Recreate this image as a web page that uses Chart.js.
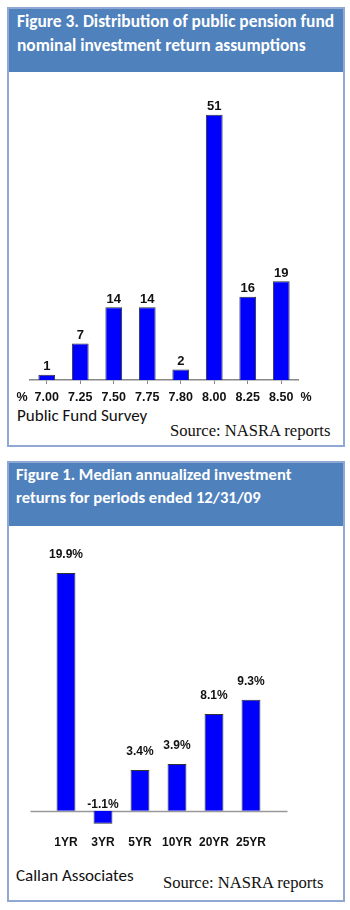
<!DOCTYPE html>
<html>
<head>
<meta charset="utf-8">
<script src="https://cdn.jsdelivr.net/npm/chart.js@4.4.0/dist/chart.umd.min.js"></script>
<style>
  body { margin: 0; background: #fff; width: 350px; height: 910px; position: relative; overflow: hidden; }
  .panel { position: absolute; left: 7px; width: 334px; border: 2px solid #8fa9d4; background: #fff; }
  .head { background: #4f81bd; color: #fff; font-family: 'Carlito', Lato, sans-serif; font-weight: bold;
          font-size: 17.4px; line-height: 24px; box-sizing: border-box; white-space: nowrap; }
  .note { position: absolute; font-family: 'Carlito', Lato, sans-serif; font-size: 17px; color: #111; white-space: nowrap; }
  .src { position: absolute; font-family: 'Liberation Serif', 'Times New Roman', serif; font-size: 16.6px; color: #111; white-space: nowrap; }
  canvas { position: absolute; left: 0; }
</style>
</head>
<body>
<div class="panel" style="top:7px;height:436px">
  <div class="head" style="height:63px;padding:0 0 0 8px">Figure 3. Distribution of public pension fund<br>nominal investment return assumptions</div>
</div>
<div class="panel" style="top:461px;height:437px">
  <div class="head" style="height:63px;padding:0 0 0 7px;font-size:16.6px;line-height:23px">Figure 1. Median annualized investment<br>returns for periods ended 12/31/09</div>
</div>
<div class="note" style="left:17px;top:405px">Public Fund Survey</div>
<div class="src" style="left:170px;top:421px">Source: NASRA reports</div>
<div class="note" style="left:16px;top:865px">Callan Associates</div>
<div class="src" style="left:163px;top:873px">Source: NASRA reports</div>

<canvas id="assumptions" width="350" height="338" style="top:73px"></canvas>
<canvas id="returns" width="350" height="330" style="top:527px"></canvas>

<script>
// Figure 3 - number of funds per assumed return
const surveyRates = ['7.00', '7.25', '7.50', '7.75', '7.80', '8.00', '8.25', '8.50'];
const surveyCounts = [1, 7, 14, 14, 2, 51, 16, 19];

// Figure 1 - median annualized returns
const periods = ['1YR', '3YR', '5YR', '10YR', '20YR', '25YR'];
const medianReturns = [19.9, -1.1, 3.4, 3.9, 8.1, 9.3];

const SANS = '"Liberation Sans", Arial, sans-serif';

// labels on top of bars
function valueLabels(fmt, font, gapUp, gapNeg) {
    return {
        id: 'valueLabels',
        afterDatasetsDraw(chart) {
            const ctx = chart.ctx;
            const meta = chart.getDatasetMeta(0);
            const data = chart.data.datasets[0].data;
            const y0 = chart.scales.y.getPixelForValue(0);
            ctx.save();
            ctx.font = font;
            ctx.fillStyle = '#111';
            ctx.textAlign = 'center';
            ctx.textBaseline = 'middle';
            meta.data.forEach((bar, i) => {
                const v = data[i];
                const y = v >= 0 ? bar.y - gapUp : y0 - gapNeg;
                ctx.fillText(fmt(v), bar.x, y);
            });
            ctx.restore();
        }
    };
}

const percentEnds = {
    id: 'percentEnds',
    afterDraw(chart) {
        const ctx = chart.ctx;
        const a = chart.chartArea;
        ctx.save();
        ctx.font = 'bold 12.5px ' + SANS;
        ctx.fillStyle = '#111';
        ctx.textAlign = 'center';
        ctx.textBaseline = 'middle';
        ctx.fillText('%', a.left - 8, a.bottom + 18);
        ctx.fillText('%', a.right + 8, a.bottom + 18);
        ctx.restore();
    }
};

const zeroLine = {
    id: 'zeroLine',
    beforeDatasetsDraw(chart) {
        const ctx = chart.ctx;
        const a = chart.chartArea;
        const y = Math.round(chart.scales.y.getPixelForValue(0)) + 0.5;
        ctx.save();
        ctx.strokeStyle = '#999';
        ctx.lineWidth = 1.5;
        ctx.beginPath();
        ctx.moveTo(a.left - 17, y);
        ctx.lineTo(a.right + 18, y);
        ctx.stroke();
        ctx.restore();
    }
};

new Chart(document.getElementById('assumptions'), {
    type: 'bar',
    data: {
        labels: surveyRates,
        datasets: [{
            data: surveyCounts,
            backgroundColor: '#0000ff',
            borderColor: '#333',
            borderWidth: 1,
            categoryPercentage: 1,
            barPercentage: 0.5
        }]
    },
    options: {
        responsive: false,
        animation: false,
        layout: { padding: { left: 30, right: 52, top: 21, bottom: 0 } },
        plugins: { legend: { display: false }, tooltip: { enabled: false } },
        scales: {
            y: { display: false, min: 0, max: 55 },
            x: {
                border: { color: '#888', width: 1.5 },
                grid: { drawOnChartArea: false, offset: false, color: '#888', tickLength: 4 },
                ticks: { color: '#111', padding: 6, font: { family: SANS, size: 12.5, weight: 'bold' } }
            }
        }
    },
    plugins: [valueLabels(v => String(v), 'bold 13px ' + SANS, 8, 0), percentEnds]
});

new Chart(document.getElementById('returns'), {
    type: 'bar',
    data: {
        labels: periods,
        datasets: [{
            data: medianReturns,
            backgroundColor: '#0000ff',
            borderColor: '#333',
            borderWidth: 1,
            categoryPercentage: 1,
            barPercentage: 0.51
        }]
    },
    options: {
        responsive: false,
        animation: false,
        layout: { padding: { left: 47.5, right: 80.5, top: 21, bottom: 0 } },
        plugins: { legend: { display: false }, tooltip: { enabled: false } },
        scales: {
            y: { display: false, min: -1.5, max: 22 },
            x: {
                border: { display: false },
                grid: { display: false, drawTicks: false },
                ticks: { color: '#111', padding: 7, font: { family: SANS, size: 12, weight: 'bold' } }
            }
        }
    },
    plugins: [zeroLine, valueLabels(v => v.toFixed(1) + '%', 'bold 12px ' + SANS, 18, 6)]
});
</script>
</body>
</html>
